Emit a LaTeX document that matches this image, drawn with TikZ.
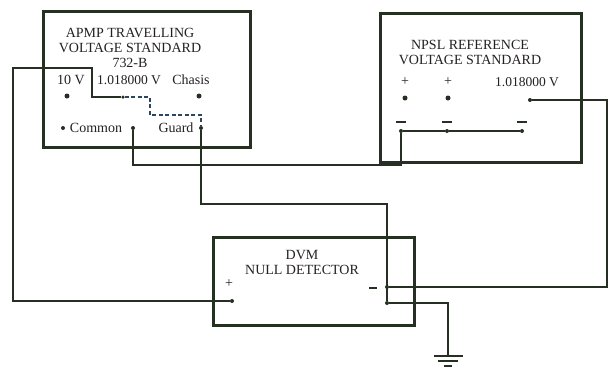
\documentclass[tikz,border=0pt]{standalone}
\usepackage{fontspec}
\setmainfont{Liberation Serif}
\usepackage{xcolor}
\usepackage{tikz}
\usetikzlibrary{positioning,calc}
\definecolor{WireDark}{RGB}{38, 48, 34}
\definecolor{InkDark}{RGB}{36, 32, 36}
\definecolor{DashBlue}{RGB}{45, 70, 95}
\tikzstyle{unit} = [rectangle, draw=WireDark, line width=3pt, inner sep=0pt]
\tikzstyle{term} = [circle, fill=WireDark, inner sep=0pt, minimum size=5pt]
\tikzstyle{label} = [text=InkDark, inner sep=0pt, font=\fontsize{14}{15}\selectfont, align=center]
\tikzstyle{wire} = [draw=WireDark, line width=2pt, line join=miter]
\tikzstyle{bar} = [draw=WireDark, line width=2.2pt]

\begin{document}
\begin{tikzpicture}[x=1pt, y=-1pt]
\useasboundingbox (0,0) rectangle (608,367);

% Boites
\node (apmp) [unit, minimum width=207pt, minimum height=136pt] at (146.5,79) {};
\node (npsl) [unit, minimum width=201pt, minimum height=149pt] at (480.5,87.5) {};
\node (dvm) [unit, minimum width=201pt, minimum height=88pt] at (313.5,281) {};

% Textes APMP
\node (apmptitle) [label] at (130,48) {APMP TRAVELLING\\VOLTAGE STANDARD\\732-B};
\node (l10v) [label] at (71,80) {10 V};
\node (l1018) [label, font=\fontsize{13.5}{15}\selectfont] at (129,80) {1.018000 V};
\node (lchasis) [label] at (191,80) {Chasis};
\node (lcommon) [label] at (96,128) {Common};
\node (lguard) [label] at (176,128) {Guard};

% Bornes APMP
\node (t10v) [term] at (67,96) {};
\node (t1018) [term, minimum size=3.5pt] at (123,97) {};
\node (tchasis) [term] at (199,96) {};
\node (tcomdot) [term, minimum size=4pt] at (63,128) {};
\node (tcommon) [term, minimum size=4pt] at (133,128) {};
\node (tguard) [term, minimum size=4pt] at (201,128) {};

% Textes NPSL
\node (npsltitle) [label] at (470,52) {NPSL REFERENCE\\VOLTAGE STANDARD};
\node (lplus1) [label] at (405,82) {+};
\node (lplus2) [label] at (448,82) {+};
\node (lnpslv) [label, font=\fontsize{13.5}{15}\selectfont] at (527,82) {1.018000 V};

% Bornes NPSL
\node (p1) [term] at (405,98) {};
\node (p2) [term] at (448,98) {};
\node (nout) [term, minimum size=4pt] at (530,100) {};
\node (n1) [term, minimum size=4pt] at (401,131) {};
\node (n2) [term, minimum size=4pt] at (447,131) {};
\node (n3) [term, minimum size=4pt] at (522,131) {};
\draw [bar] (396,122) -- (406,122);
\draw [bar] (442,122) -- (452,122);
\draw [bar] (517,122) -- (527,122);

% Textes DVM
\node (dvmtitle) [label] at (302,262) {DVM\\NULL DETECTOR};
\node (lplusd) [label] at (229,284) {+};
\draw [bar] (369,288) -- (377,288);

% Bornes DVM
\node (dplus) [term, minimum size=4pt] at (232,301) {};
\node (dminus) [term, minimum size=4pt] at (387,287) {};
\node (dgnd) [term, minimum size=4pt] at (387,303) {};

% Masse
\node (gnd) [inner sep=0pt] at (448,356) {};
\draw [bar] (434,356) -- (463,356);
\draw [bar] (438,361) -- (458,361);
\draw [bar] (444,366) -- (452,366);

% Points de passage
\coordinate (lbend) at (13,68);
\coordinate (cbus) at (401,165);
\coordinate (rbend) at (607,100);
\coordinate (gbend) at (387,204);

% Fils
\draw [wire] (t1018) -- ++(-31,0) |- (lbend) |- (dplus);
\draw [draw=DashBlue, line width=1.4pt, dash pattern=on 4pt off 2.5pt] (t1018) -- ++(27,0) -- ++(0,18) -| (tguard);
\draw [wire] (tcommon) |- (cbus) -- (n1);
\draw [wire] (n1) -- (n2) -- (n3);
\draw [wire] (nout) -- (rbend) |- (dminus);
\draw [wire] (tguard) |- (gbend) -- (dgnd);
\draw [wire] (dgnd) -| (gnd);

\end{tikzpicture}
\end{document}
